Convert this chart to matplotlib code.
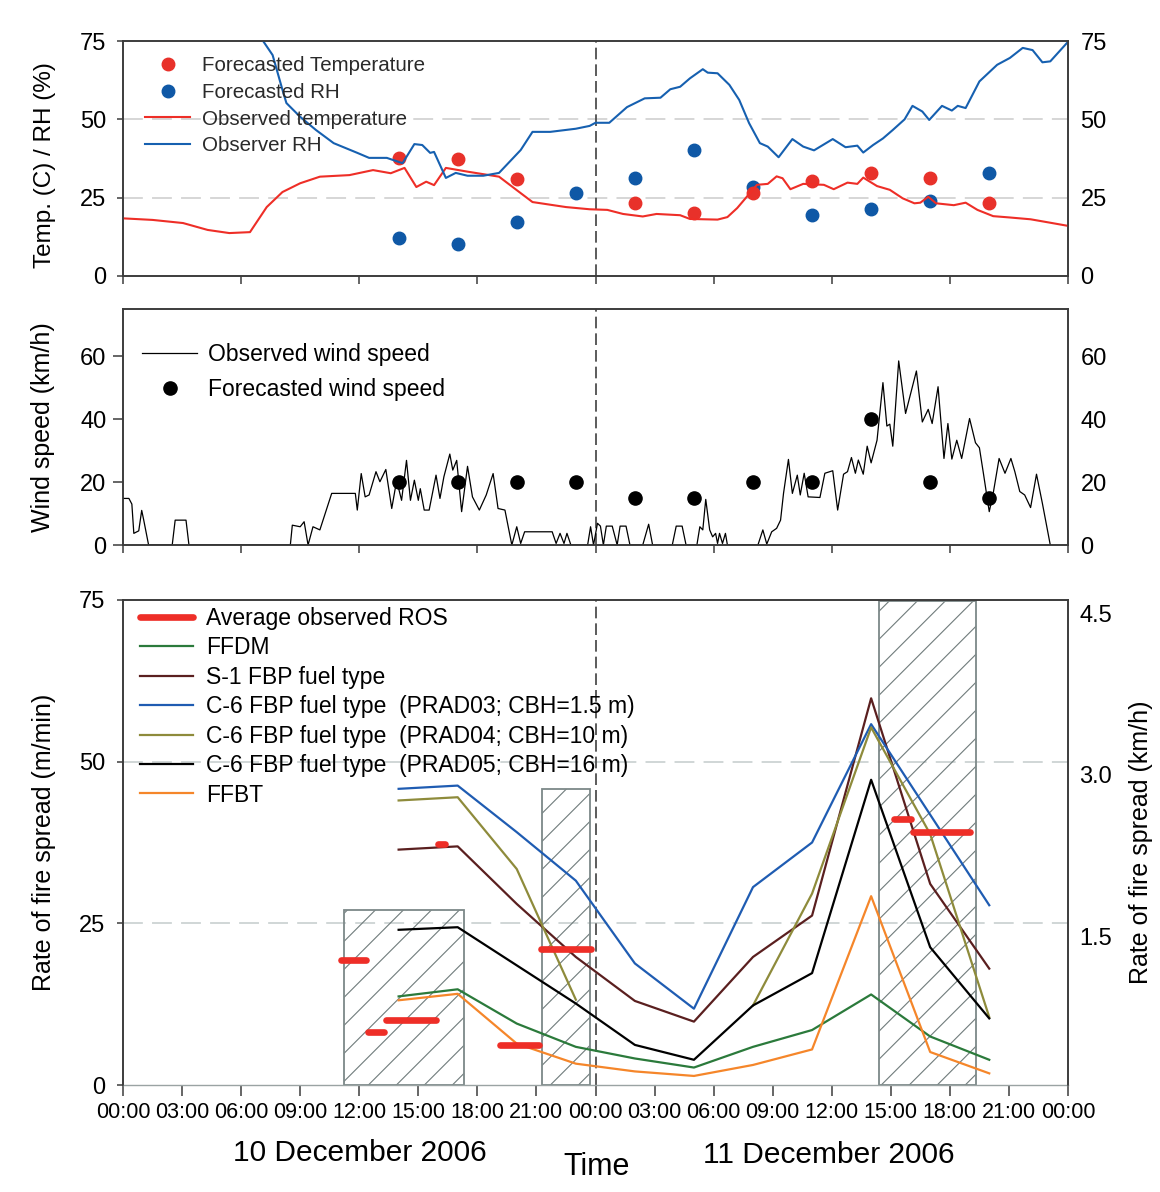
import numpy as np
import matplotlib
matplotlib.use('Agg')
import matplotlib.pyplot as plt
from matplotlib import font_manager as fm
from matplotlib.patches import Rectangle
from matplotlib.lines import Line2D

# ---------------- data (hours from 00:00 10 Dec 2006) ----------------
obs_temp_h = [0, 1.5, 3.05, 4.3, 5.4, 6.45, 7.3, 8.1, 9.0, 10.0, 11.5, 12.7, 13.6, 14.3, 14.9,
              15.4, 15.8, 16.4, 17.5, 19.1, 20.0, 20.8, 22.5, 23.7, 24.6, 25.4, 26.4, 27.1, 28.3,
              28.8, 30.2, 30.7, 31.2, 31.7, 32.2, 32.75, 33.2, 33.5, 33.9, 34.55, 35.6, 36.1, 36.8,
              37.3, 37.6, 38.3, 38.95, 39.6, 40.2, 40.5, 40.9, 41.3, 42.2, 42.8, 43.4, 44.2, 45.0,
              46.1, 47.1, 48.0]
obs_temp = [18.4, 17.9, 16.9, 14.7, 13.7, 14.0, 22.0, 26.8, 29.6, 31.7, 32.2, 33.8, 32.8, 34.5, 28.4,
            30.1, 29.0, 34.5, 33.3, 31.7, 27.4, 23.6, 22.0, 21.3, 21.1, 19.8, 19.0, 19.8, 19.4,
            18.2, 18.0, 18.8, 21.7, 25.4, 29.1, 29.4, 31.8, 31.2, 27.7, 29.4, 29.1, 27.7, 29.8,
            29.4, 31.4, 28.7, 27.5, 24.8, 23.2, 23.4, 25.3, 23.2, 22.6, 23.4, 21.1, 19.1, 18.7,
            18.1, 17.0, 16.0]

obs_rh_h = [6.9, 7.6, 8.1, 8.3, 9.0, 9.8, 10.7, 11.9, 12.5, 13.4, 14.2, 14.8, 15.2, 15.6, 15.8,
            16.4, 16.9, 17.5, 18.3, 19.1, 20.2, 20.8, 21.7, 23.0, 23.7, 24.0, 24.7, 25.6, 26.5,
            27.3, 27.8, 28.3, 28.8, 29.45, 29.7, 30.2, 30.8, 31.3, 31.8, 32.35, 32.75, 33.3, 34.0,
            34.55, 35.1, 36.05, 36.7, 37.3, 37.6, 38.1, 38.6, 39.1, 39.7, 40.1, 40.6, 40.95, 41.6,
            42.1, 42.4, 42.8, 43.5, 44.4, 45.05, 45.7, 46.2, 46.7, 47.1, 47.95]
obs_rh = [77.0, 70.5, 59.4, 55.2, 50.8, 46.6, 42.4, 39.3, 37.7, 37.7, 36.0, 42.1, 41.8, 39.3, 39.6,
          31.3, 32.9, 32.0, 32.0, 32.9, 40.2, 46.0, 46.0, 47.0, 47.9, 48.9, 48.9, 53.9, 56.7,
          56.9, 59.6, 60.4, 63.1, 66.0, 64.9, 64.7, 61.0, 56.2, 48.8, 42.4, 41.3, 37.9, 43.7,
          41.3, 40.1, 43.7, 41.1, 41.6, 39.4, 41.8, 43.9, 46.6, 50.0, 54.3, 52.5, 49.8, 54.3,
          52.8, 54.3, 53.6, 62.1, 67.4, 69.6, 72.8, 72.1, 68.2, 68.5, 74.4]

fc_temp_h = [14, 17, 20, 26, 29, 32, 35, 38, 41, 44]
fc_temp = [37.6, 37.2, 31.0, 23.4, 20.2, 26.4, 30.4, 33.0, 31.2, 23.4]
fc_rh_h = [14, 17, 20, 23, 26, 29, 32, 35, 38, 41, 44]
fc_rh = [12.1, 10.2, 17.2, 26.5, 31.2, 40.2, 28.5, 19.4, 21.3, 24.0, 33.0]

wind_h = [0, 0.3, 0.45, 0.55, 0.8, 0.95, 1.05, 1.3, 2.5, 2.65, 3.2, 3.35, 8.5, 8.6, 9.0, 9.2, 9.4,
          9.65, 10.0, 10.35, 10.6, 11.8, 11.9, 12.1, 12.3, 12.5, 12.85, 13.05, 13.35, 13.65, 13.9,
          14.15, 14.4, 14.6, 14.8, 15.0, 15.1, 15.3, 15.55, 15.9, 16.1, 16.3, 16.6, 16.75, 16.95,
          17.2, 17.5, 17.75, 18.1, 18.45, 18.8, 19.05, 19.4, 19.75, 20.0, 20.2, 20.4, 21.8, 22.0,
          22.2, 22.4, 22.55, 22.75, 23.6, 23.75, 23.9, 24.1, 24.25, 24.4, 24.55, 24.85, 25.1,
          25.25, 25.55, 25.75, 26.4, 26.7, 26.9, 27.9, 28.1, 28.4, 28.6, 29.15, 29.3, 29.45, 29.6,
          29.8, 29.95, 30.1, 30.2, 30.3, 30.45, 30.6, 30.7, 32.25, 32.5, 32.7, 32.95, 33.2, 33.4,
          33.55, 33.8, 34.0, 34.25, 34.4, 34.6, 34.8, 35.4, 35.65, 36.05, 36.3, 36.6, 36.8, 37.0,
          37.2, 37.35, 37.6, 37.8, 38.0, 38.3, 38.6, 38.8, 38.95, 39.1, 39.4, 39.75, 40.3, 40.6,
          40.9, 41.1, 41.4, 41.7, 41.9, 42.1, 42.35, 42.6, 43.0, 43.3, 43.5, 43.7, 44.0, 44.2,
          44.5, 44.8, 45.1, 45.3, 45.55, 45.8, 46.1, 46.4, 46.7, 47.1]
wind = [14.8, 14.8, 13.0, 3.7, 4.5, 11.0, 8.0, 0, 0, 7.9, 7.9, 0, 0, 6.3, 5.8, 7.4, 0,
        5.8, 4.8, 11.6, 16.4, 16.4, 11.1, 22.7, 15.3, 15.9, 23.3, 20.1, 24.0, 11.6, 20.5,
        14.2, 26.9, 14.2, 20.6, 14.2, 17.9, 11.1, 11.1, 22.2, 14.8, 21.7, 28.9, 23.8, 26.9,
        10.6, 25.0, 15.3, 11.1, 15.9, 22.7, 11.6, 11.1, 0, 5.8, 0.5, 4.2, 4.2, 0.5,
        3.7, 0.5, 3.7, 0, 0, 5.8, 0, 6.9, 6.0, 0, 6.0, 6.0, 0,
        6.0, 6.0, 0, 0, 6.6, 0, 0, 6.0, 6.0, 0, 0, 5.8, 4.8, 14.5,
        4.8, 2.6, 3.7, 0.5, 3.7, 0.5, 3.7, 0, 0, 4.8, 0.3, 4.2, 5.3, 7.9,
        16.4, 27.2, 16.4, 22.2, 15.9, 22.8, 15.3, 15.1, 22.8, 23.6, 11.1, 22.5, 23.3, 27.8,
        22.8, 27.0, 22.5, 31.4, 26.1, 33.3, 51.6, 37.8, 38.4, 31.4, 58.5, 41.8, 55.3, 39.1,
        43.1, 38.6, 50.3, 27.5, 38.6, 27.3, 33.3, 27.5, 40.2, 32.5, 30.9, 22.9, 10.6, 16.4,
        27.5, 22.8, 27.5, 23.3, 17.0, 15.9, 11.9, 22.5, 13.2, 0]

fc_wind_h = [14, 17, 20, 23, 26, 29, 32, 35, 38, 41, 44]
fc_wind = [20, 20, 20, 20, 15, 15, 20, 20, 40, 20, 15]

ros_h = [14, 17, 20, 23, 26, 29, 32, 35, 38, 41, 44]
ros_ffdm = [13.7, 14.8, 9.5, 5.9, 4.1, 2.7, 5.9, 8.5, 14.0, 7.5, 3.9]
ros_s1 = [36.4, 36.9, 28.0, 19.8, 13.0, 9.8, 19.8, 26.2, 59.8, 31.1, 18.0]
ros_prad03 = [45.8, 46.3, 39.1, 31.6, 18.8, 11.8, 30.6, 37.5, 55.8, 41.8, 27.8]
ros_prad04 = [44.0, 44.5, 33.4, 13.2, np.nan, np.nan, 12.3, 29.6, 55.3, 38.8, 10.5]
ros_prad05 = [24.0, 24.4, 18.5, 12.6, 6.2, 3.9, 12.3, 17.3, 47.2, 21.3, 10.3]
ros_ffbt = [13.1, 14.1, 6.4, 3.3, 2.1, 1.4, 3.1, 5.5, 29.2, 5.1, 1.8]

obs_ros_start = [10.9, 12.3, 13.2, 15.85, 19.0, 21.1, 39.0, 40.0]
obs_ros_end = [12.5, 13.4, 16.05, 16.5, 21.3, 23.9, 40.2, 43.15]
obs_ros = [19.3, 8.2, 10.1, 37.2, 6.2, 21.1, 41.1, 39.2]

period_start = [11.2, 21.3, 38.4]
period_end = [17.3, 23.7, 43.35]
period_top = [27.1, 45.8, 74.8]

time_labels = ['00:00', '03:00', '06:00', '09:00', '12:00', '15:00', '18:00', '21:00',
               '00:00', '03:00', '06:00', '09:00', '12:00', '15:00', '18:00', '21:00', '00:00']

# ---------------- fonts ----------------
names = {f.name for f in fm.fontManager.ttflist}
BASE = 'Liberation Sans' if 'Liberation Sans' in names else 'DejaVu Sans'
NARROW = 'Liberation Sans Narrow' if 'Liberation Sans Narrow' in names else None
plt.rcParams['font.family'] = [BASE, 'DejaVu Sans']

if NARROW:
    XT_FAM, XT_SIZE, DATE_SIZE, TIME_SIZE = NARROW, 19, 26.5, 27
else:
    XT_FAM, XT_SIZE, DATE_SIZE, TIME_SIZE = BASE, 15.5, 21.5, 22

# ---------------- colours ----------------
SPINE = '#3c3c3c'
GRID = '#cccccc'
RED = '#ee2e27'
BLUE = '#1660b0'
DOT_RED = '#e8312a'
DOT_BLUE = '#0f58a6'
C_FFDM = '#2b7a3b'
C_S1 = '#5a1f1f'
C_P03 = '#1f5cb2'
C_P04 = '#8e8b3b'
C_P05 = '#000000'
C_FFBT = '#f5862a'
RECT_EDGE = '#7c8888'
HATCH = '#6f7b7b'

W, H = 1160, 1192
fig = plt.figure(figsize=(W / 100, H / 100), dpi=100)
fig.patch.set_facecolor('white')


def ax_rect(l, t, r, b):
    return [l / W, 1 - b / H, (r - l) / W, (b - t) / H]


ax1 = fig.add_axes(ax_rect(123, 41, 1068, 276))
ax2 = fig.add_axes(ax_rect(123, 309, 1068, 545))
ax3 = fig.add_axes(ax_rect(123, 600, 1068, 1085))

for ax in (ax1, ax2, ax3):
    ax.set_xlim(0, 48)
    ax.set_autoscale_on(False)
    for sp in ax.spines.values():
        sp.set_color(SPINE)
        sp.set_linewidth(1.2)
    ax.axvline(24, color='#404040', lw=1.2, ls=(0, (7, 3)), zorder=2)

# ---------------- top panel ----------------
ax1.set_ylim(0, 75)
for g in (25, 50):
    ax1.axhline(g, color=GRID, lw=1.1, ls=(0, (13, 6)), zorder=1)
h_rh, = ax1.plot(fc_rh_h, fc_rh, 'o', color=DOT_BLUE, ms=9, zorder=3, lw=0)
h_ft, = ax1.plot(fc_temp_h, fc_temp, 'o', color=DOT_RED, ms=9, zorder=4, lw=0)
h_ot, = ax1.plot(obs_temp_h, obs_temp, color=RED, lw=1.5, zorder=5)
h_orh, = ax1.plot(obs_rh_h, obs_rh, color=BLUE, lw=1.5, zorder=5)
ax1.set_yticks([0, 25, 50, 75])
ax1.set_xticks(range(0, 49, 6))
ax1.set_xticklabels([])
ax1.tick_params(axis='x', direction='out', length=6, width=1.1, color=SPINE)
ax1.tick_params(axis='y', direction='out', length=4, width=1.1, color=SPINE, labelsize=17, pad=8)
ax1.set_ylabel('Temp. (C) / RH (%)', fontsize=17.5)
ax1.yaxis.set_label_coords(-0.0705, 0.47)
ax1r = ax1.twinx()
ax1r.set_ylim(0, 75)
ax1r.set_yticks([0, 25, 50, 75])
ax1r.tick_params(axis='y', length=0, labelsize=17, pad=9)
for sp in ax1r.spines.values():
    sp.set_color(SPINE)
    sp.set_linewidth(1.2)


def anchor(ax_px, px, py):
    l, t, r, b = ax_px
    return ((px - l) / (r - l), (b - py) / (b - t))


leg1 = ax1.legend([h_ft, h_rh, h_ot, h_orh],
                  ['Forecasted Temperature', 'Forecasted RH', 'Observed temperature', 'Observer RH'],
                  loc='upper left', bbox_to_anchor=anchor((123, 41, 1068, 276), 145, 56),
                  frameon=False, borderpad=0, borderaxespad=0, fontsize=14.8,
                  handlelength=2.2, handletextpad=0.55, labelspacing=0.38, numpoints=1)
for t in leg1.get_texts():
    t.set_color('#2a2a2a')
leg1.set_zorder(6)

# ---------------- middle panel ----------------
ax2.set_ylim(0, 75)
h_fw, = ax2.plot(fc_wind_h, fc_wind, 'o', color='black', ms=9.5, zorder=3, lw=0)
h_ow, = ax2.plot(wind_h, wind, color='black', lw=0.9, zorder=4)
ax2.set_yticks([0, 20, 40, 60])
ax2.set_xticks(range(0, 49, 6))
ax2.set_xticklabels([])
ax2.tick_params(axis='x', direction='out', length=6, width=1.1, color=SPINE)
ax2.tick_params(axis='y', direction='out', length=7, width=1.1, color=SPINE, labelsize=17, pad=5)
ax2.set_ylabel('Wind speed (km/h)', fontsize=18)
ax2.yaxis.set_label_coords(-0.0715, 0.5)
ax2r = ax2.twinx()
ax2r.set_ylim(0, 75)
ax2r.set_yticks([0, 20, 40, 60])
ax2r.tick_params(axis='y', length=0, labelsize=17, pad=9)
for sp in ax2r.spines.values():
    sp.set_color(SPINE)
    sp.set_linewidth(1.2)
ax2.legend([h_ow, h_fw], ['Observed wind speed', 'Forecasted wind speed'],
           loc='upper left', bbox_to_anchor=anchor((123, 309, 1068, 545), 142, 343),
           frameon=False, borderpad=0, borderaxespad=0, fontsize=16.5,
           handlelength=2.4, handletextpad=0.5, labelspacing=0.52, numpoints=1)

# ---------------- bottom panel ----------------
ax3.set_ylim(0, 75)
ax3.spines['bottom'].set_color('#9aa3a3')
ax3.spines['bottom'].set_linewidth(1.0)
for g in (25, 50):
    ax3.axhline(g, color='#c4cccc', lw=1.1, ls=(0, (13, 6)), zorder=1)


def add_hatched(ax, x0, x1, top, spacing=28):
    rect = Rectangle((x0, 0), x1 - x0, top, facecolor='none', edgecolor=RECT_EDGE,
                     lw=1.3, zorder=1.6)
    ax.add_patch(rect)
    T = ax.transData
    inv = T.inverted()
    px0, py0 = T.transform((x0, 0))
    px1, py1 = T.transform((x1, top))
    cmin = py0 - px1
    cmax = py1 - px0
    for c in np.arange(cmin + spacing * 0.4, cmax, spacing):
        xs = np.array([px0 - 5, px1 + 5])
        ys = xs + c
        d = inv.transform(np.column_stack([xs, ys]))
        ln, = ax.plot(d[:, 0], d[:, 1], color=HATCH, lw=0.8, zorder=1.5)
        ln.set_clip_path(rect)


for s, e, t in zip(period_start, period_end, period_top):
    add_hatched(ax3, s, e, t)

series = [(ros_ffdm, C_FFDM, 'FFDM'),
          (ros_s1, C_S1, 'S-1 FBP fuel type'),
          (ros_prad03, C_P03, 'C-6 FBP fuel type  (PRAD03; CBH=1.5 m)'),
          (ros_prad04, C_P04, 'C-6 FBP fuel type  (PRAD04; CBH=10 m)'),
          (ros_prad05, C_P05, 'C-6 FBP fuel type  (PRAD05; CBH=16 m)'),
          (ros_ffbt, C_FFBT, 'FFBT')]
handles = []
labels = []
cap = 0.15
for s, e, v in zip(obs_ros_start, obs_ros_end, obs_ros):
    ax3.plot([s + cap, e - cap], [v, v], color=RED, lw=4.8, solid_capstyle='round', zorder=5)
handles.append(Line2D([], [], color=RED, lw=4.8, solid_capstyle='round'))
labels.append('Average observed ROS')
for vals, col, lab in series:
    hh, = ax3.plot(ros_h, vals, color=col, lw=1.6, zorder=4)
    handles.append(hh)
    labels.append(lab)

ax3.set_yticks([0, 25, 50, 75])
ax3.set_xticks(range(0, 49, 3))
ax3.set_xticklabels(time_labels)
for lbl in ax3.get_xticklabels():
    lbl.set_fontfamily([XT_FAM, 'DejaVu Sans'])
    lbl.set_fontsize(XT_SIZE)
ax3.tick_params(axis='x', direction='out', length=8, width=1.1, color=SPINE, pad=4)
ax3.tick_params(axis='y', direction='out', length=4, width=1.1, color=SPINE, labelsize=17, pad=9)
ax3.set_ylabel('Rate of fire spread (m/min)', fontsize=18)
ax3.yaxis.set_label_coords(-0.0705, 0.5)

ax3r = ax3.twinx()
ax3r.set_ylim(0.112, 4.63)
ax3r.set_yticks([1.5, 3.0, 4.5])
ax3r.set_yticklabels(['1.5', '3.0', '4.5'])
ax3r.tick_params(axis='y', length=0, labelsize=17, pad=8)
ax3r.set_ylabel('Rate of fire spread (km/h)', fontsize=18)
ax3r.yaxis.set_label_coords(1.065, 0.5)
for sp in ax3r.spines.values():
    sp.set_color(SPINE)
    sp.set_linewidth(1.2)
ax3r.spines['bottom'].set_visible(False)

ax3.legend(handles, labels, loc='upper left',
           bbox_to_anchor=anchor((123, 600, 1068, 1085), 140, 607),
           frameon=False, borderpad=0, borderaxespad=0, fontsize=16.5,
           handlelength=2.3, handletextpad=0.58, labelspacing=0.28)

# ---------------- date / time labels ----------------
fig.text(360 / W, 1 - 1153 / H, '10 December 2006', ha='center', va='center',
         fontsize=DATE_SIZE, family=[XT_FAM, 'DejaVu Sans'])
fig.text(597 / W, 1 - 1167 / H, 'Time', ha='center', va='center',
         fontsize=TIME_SIZE, family=[XT_FAM, 'DejaVu Sans'])
fig.text(829 / W, 1 - 1155 / H, '11 December 2006', ha='center', va='center',
         fontsize=DATE_SIZE, family=[XT_FAM, 'DejaVu Sans'])

fig.savefig('out.png', dpi=100, facecolor='white')
